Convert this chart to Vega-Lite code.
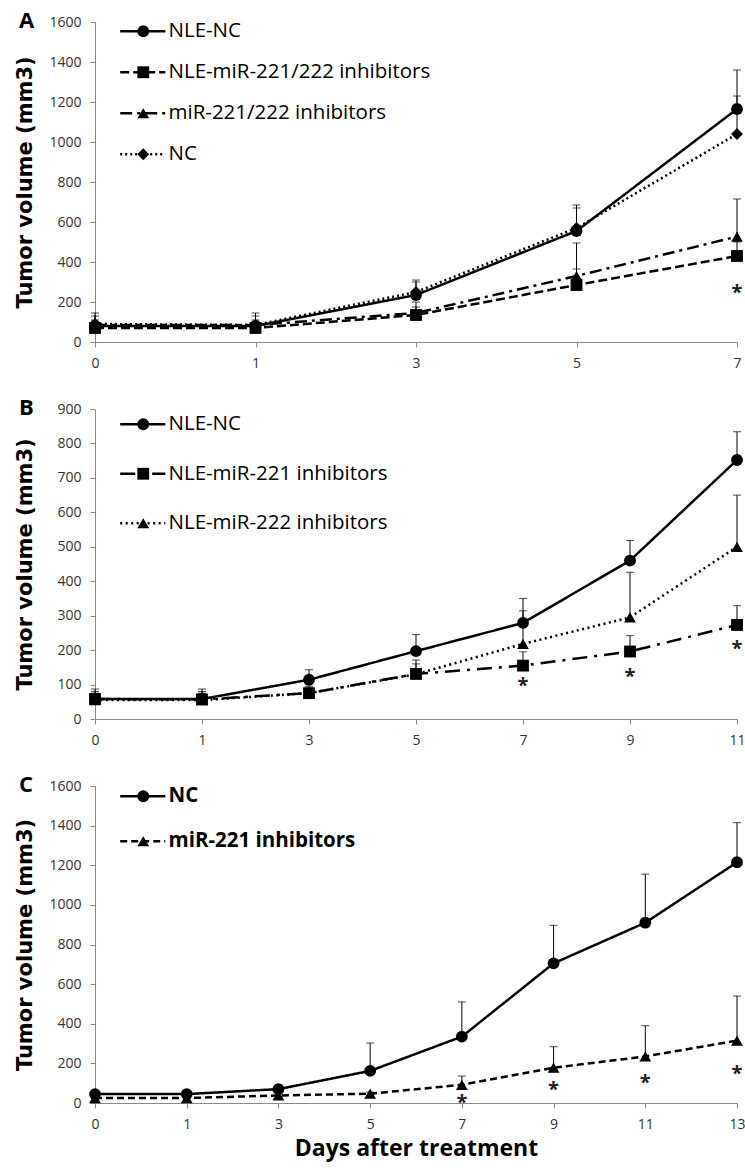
{
  "$schema": "https://vega.github.io/schema/vega-lite/v6.json",
  "background": "white",
  "padding": {"left": 14, "top": 10, "right": 5, "bottom": 5},
  "spacing": 27,
  "config": {
    "view": {"stroke": null},
    "axis": {
      "grid": false,
      "domainColor": "#8a8a8a",
      "tickColor": "#8a8a8a",
      "tickSize": 5,
      "labelFont": "Open Sans",
      "labelFontSize": 14,
      "labelColor": "#333333",
      "labelPadding": 9,
      "titleFont": "DejaVu Sans",
      "titleFontWeight": "bold",
      "titleFontSize": 21,
      "titleColor": "black"
    },
    "axisX": {"labelAngle": 0},
    "axisY": {"format": "d"},
    "legend": {
      "orient": "none",
      "title": null,
      "padding": 0,
      "labelFont": "Open Sans",
      "labelFontSize": 20.5,
      "labelColor": "black",
      "labelLimit": 600,
      "symbolSize": 110,
      "labelOffset": 15.5
    },
    "title": {
      "anchor": "start",
      "frame": "bounds",
      "font": "Open Sans",
      "fontSize": 22,
      "fontWeight": "bold",
      "color": "black",
      "offset": 0
    }
  },
  "datasets": {
    "A": [
      {"group": "NLE-NC", "day": 0, "mean": 80, "upper": 145},
      {"group": "NLE-NC", "day": 1, "mean": 80, "upper": 145},
      {"group": "NLE-NC", "day": 3, "mean": 235, "upper": 300},
      {"group": "NLE-NC", "day": 5, "mean": 555, "upper": 670},
      {"group": "NLE-NC", "day": 7, "mean": 1165, "upper": 1360},
      {"group": "NLE-miR-221/222 inhibitors", "day": 0, "mean": 70, "upper": 100},
      {"group": "NLE-miR-221/222 inhibitors", "day": 1, "mean": 70, "upper": 100},
      {"group": "NLE-miR-221/222 inhibitors", "day": 3, "mean": 135, "upper": 175},
      {"group": "NLE-miR-221/222 inhibitors", "day": 5, "mean": 285, "upper": 365},
      {"group": "NLE-miR-221/222 inhibitors", "day": 7, "mean": 430, "upper": 500},
      {"group": "miR-221/222 inhibitors", "day": 0, "mean": 85, "upper": 110},
      {"group": "miR-221/222 inhibitors", "day": 1, "mean": 85, "upper": 110},
      {"group": "miR-221/222 inhibitors", "day": 3, "mean": 145, "upper": 200},
      {"group": "miR-221/222 inhibitors", "day": 5, "mean": 330, "upper": 495},
      {"group": "miR-221/222 inhibitors", "day": 7, "mean": 527, "upper": 715},
      {"group": "NC", "day": 0, "mean": 90, "upper": 130},
      {"group": "NC", "day": 1, "mean": 85, "upper": 130},
      {"group": "NC", "day": 3, "mean": 250, "upper": 310},
      {"group": "NC", "day": 5, "mean": 570, "upper": 685},
      {"group": "NC", "day": 7, "mean": 1040, "upper": 1230}
    ],
    "A_star": [
      {"day": 7, "mean": 268}
    ],
    "B": [
      {"group": "NLE-NC", "day": 0, "mean": 58, "upper": 87},
      {"group": "NLE-NC", "day": 1, "mean": 58, "upper": 87},
      {"group": "NLE-NC", "day": 3, "mean": 114, "upper": 143},
      {"group": "NLE-NC", "day": 5, "mean": 197, "upper": 245},
      {"group": "NLE-NC", "day": 7, "mean": 279, "upper": 350},
      {"group": "NLE-NC", "day": 9, "mean": 460, "upper": 518},
      {"group": "NLE-NC", "day": 11, "mean": 752, "upper": 834},
      {"group": "NLE-miR-221 inhibitors", "day": 0, "mean": 58, "upper": 80},
      {"group": "NLE-miR-221 inhibitors", "day": 1, "mean": 57, "upper": 80},
      {"group": "NLE-miR-221 inhibitors", "day": 3, "mean": 75, "upper": 95},
      {"group": "NLE-miR-221 inhibitors", "day": 5, "mean": 131, "upper": 171},
      {"group": "NLE-miR-221 inhibitors", "day": 7, "mean": 155, "upper": 195},
      {"group": "NLE-miR-221 inhibitors", "day": 9, "mean": 196, "upper": 242},
      {"group": "NLE-miR-221 inhibitors", "day": 11, "mean": 273, "upper": 329},
      {"group": "NLE-miR-222 inhibitors", "day": 0, "mean": 55, "upper": 75},
      {"group": "NLE-miR-222 inhibitors", "day": 1, "mean": 55, "upper": 75},
      {"group": "NLE-miR-222 inhibitors", "day": 3, "mean": 75, "upper": 90},
      {"group": "NLE-miR-222 inhibitors", "day": 5, "mean": 130, "upper": 160},
      {"group": "NLE-miR-222 inhibitors", "day": 7, "mean": 218, "upper": 314},
      {"group": "NLE-miR-222 inhibitors", "day": 9, "mean": 295, "upper": 426},
      {"group": "NLE-miR-222 inhibitors", "day": 11, "mean": 500, "upper": 650}
    ],
    "B_star": [
      {"day": 7, "mean": 111},
      {"day": 9, "mean": 137},
      {"day": 11, "mean": 218}
    ],
    "C": [
      {"group": "NC", "day": 0, "mean": 45, "upper": 55},
      {"group": "NC", "day": 1, "mean": 45, "upper": 55},
      {"group": "NC", "day": 3, "mean": 70, "upper": 80},
      {"group": "NC", "day": 5, "mean": 162, "upper": 303},
      {"group": "NC", "day": 7, "mean": 335, "upper": 510},
      {"group": "NC", "day": 9, "mean": 705, "upper": 897},
      {"group": "NC", "day": 11, "mean": 910, "upper": 1155},
      {"group": "NC", "day": 13, "mean": 1215, "upper": 1415},
      {"group": "miR-221 inhibitors", "day": 0, "mean": 25, "upper": 30},
      {"group": "miR-221 inhibitors", "day": 1, "mean": 25, "upper": 30},
      {"group": "miR-221 inhibitors", "day": 3, "mean": 38, "upper": 45},
      {"group": "miR-221 inhibitors", "day": 5, "mean": 47, "upper": 55},
      {"group": "miR-221 inhibitors", "day": 7, "mean": 92, "upper": 136},
      {"group": "miR-221 inhibitors", "day": 9, "mean": 178, "upper": 284},
      {"group": "miR-221 inhibitors", "day": 11, "mean": 235, "upper": 390},
      {"group": "miR-221 inhibitors", "day": 13, "mean": 315, "upper": 540}
    ],
    "C_star": [
      {"day": 7, "mean": 27},
      {"day": 9, "mean": 89},
      {"day": 11, "mean": 128},
      {"day": 13, "mean": 171}
    ]
  },
  "resolve": {
    "scale": {"strokeDash": "independent", "shape": "independent", "x": "independent", "y": "independent"},
    "legend": {"strokeDash": "independent", "shape": "independent"}
  },
  "vconcat": [
    {
      "title": {"text": "A", "dy": 22, "dx": 5},
      "width": 642,
      "height": 320,
      "data": {"name": "A"},
      "encoding": {
        "x": {"field": "day", "type": "ordinal", "scale": {"type": "point", "padding": 0, "domain": [0, 1, 3, 5, 7]}, "axis": {"title": null}},
        "y": {"field": "mean", "type": "quantitative", "scale": {"domain": [0, 1600], "nice": false}, "axis": {"title": "Tumor volume (mm3)", "values": [0, 200, 400, 600, 800, 1000, 1200, 1400, 1600], "titleX": -60}}
      },
      "layer": [
        {"mark": {"type": "rule", "color": "black", "strokeWidth": 1}, "encoding": {"y2": {"field": "upper"}}},
        {"mark": {"type": "tick", "orient": "horizontal", "color": "black", "thickness": 1, "size": 8}, "encoding": {"y": {"field": "upper", "type": "quantitative"}}},
        {
          "mark": {"type": "line", "color": "black", "strokeWidth": 2.5},
          "encoding": {
            "strokeDash": {
              "field": "group", "type": "nominal", "sort": null,
              "scale": {"range": [[1, 0], [9, 4], [12, 5, 3, 5], [2, 3]]},
              "legend": {"legendX": 37.5, "legendY": -1, "rowPadding": 20, "symbolType": "M-4.3,0H4.3", "symbolStrokeColor": "black", "symbolStrokeWidth": 2.5}
            }
          }
        },
        {
          "mark": {"type": "point", "filled": true, "color": "black", "opacity": 1, "size": 140},
          "encoding": {"shape": {"field": "group", "type": "nominal", "scale": {"domain": ["NLE-NC", "NLE-miR-221/222 inhibitors", "miR-221/222 inhibitors", "NC"], "range": ["circle", "square", "triangle-up", "diamond"]},
            "legend": {"legendX": 38, "legendY": -1, "rowPadding": 20, "symbolSize": 140, "symbolStrokeWidth": 0, "labelOpacity": 0}}}
        },
        {"data": {"name": "A_star"}, "mark": {"type": "text", "text": "*", "font": "Open Sans", "fontWeight": "bold", "fontSize": 20, "color": "#222222", "dy": 5}}
      ]
    },
    {
      "title": {"text": "B", "dy": 22, "dx": 5},
      "width": 642,
      "height": 310,
      "data": {"name": "B"},
      "encoding": {
        "x": {"field": "day", "type": "ordinal", "scale": {"type": "point", "padding": 0, "domain": [0, 1, 3, 5, 7, 9, 11]}, "axis": {"title": null}},
        "y": {"field": "mean", "type": "quantitative", "scale": {"domain": [0, 900], "nice": false}, "axis": {"title": "Tumor volume (mm3)", "values": [0, 100, 200, 300, 400, 500, 600, 700, 800, 900], "titleX": -60}}
      },
      "layer": [
        {"mark": {"type": "rule", "color": "black", "strokeWidth": 1}, "encoding": {"y2": {"field": "upper"}}},
        {"mark": {"type": "tick", "orient": "horizontal", "color": "black", "thickness": 1, "size": 8}, "encoding": {"y": {"field": "upper", "type": "quantitative"}}},
        {
          "mark": {"type": "line", "color": "black", "strokeWidth": 2.5},
          "encoding": {
            "strokeDash": {
              "field": "group", "type": "nominal", "sort": null,
              "scale": {"range": [[1, 0], [15, 7, 3, 7], [2, 3.5]]},
              "legend": {"legendX": 37.5, "legendY": 5, "rowPadding": 28.5, "symbolType": "M-4.3,0H4.3", "symbolStrokeColor": "black", "symbolStrokeWidth": 2.5}
            }
          }
        },
        {
          "mark": {"type": "point", "filled": true, "color": "black", "opacity": 1, "size": 140},
          "encoding": {"shape": {"field": "group", "type": "nominal", "scale": {"domain": ["NLE-NC", "NLE-miR-221 inhibitors", "NLE-miR-222 inhibitors"], "range": ["circle", "square", "triangle-up"]},
            "legend": {"legendX": 38, "legendY": 5, "rowPadding": 28.5, "symbolSize": 140, "symbolStrokeWidth": 0, "labelOpacity": 0}}}
        },
        {"data": {"name": "B_star"}, "mark": {"type": "text", "text": "*", "font": "Open Sans", "fontWeight": "bold", "fontSize": 20, "color": "#222222", "dy": 5}}
      ]
    },
    {
      "title": {"text": "C", "dy": 22, "dx": 5},
      "width": 642,
      "height": 317,
      "data": {"name": "C"},
      "encoding": {
        "x": {"field": "day", "type": "ordinal", "scale": {"type": "point", "padding": 0, "domain": [0, 1, 3, 5, 7, 9, 11, 13]}, "axis": {"title": "Days after treatment", "titleFont": "Open Sans", "titleFontSize": 23, "titlePadding": 6}},
        "y": {"field": "mean", "type": "quantitative", "scale": {"domain": [0, 1600], "nice": false}, "axis": {"title": "Tumor volume (mm3)", "values": [0, 200, 400, 600, 800, 1000, 1200, 1400, 1600], "titleX": -60}}
      },
      "layer": [
        {"mark": {"type": "rule", "color": "black", "strokeWidth": 1}, "encoding": {"y2": {"field": "upper"}}},
        {"mark": {"type": "tick", "orient": "horizontal", "color": "black", "thickness": 1, "size": 8}, "encoding": {"y": {"field": "upper", "type": "quantitative"}}},
        {
          "mark": {"type": "line", "color": "black", "strokeWidth": 2.5},
          "encoding": {
            "strokeDash": {
              "field": "group", "type": "nominal", "sort": null,
              "scale": {"range": [[1, 0], [7, 4]]},
              "legend": {"legendX": 37.5, "legendY": 0, "rowPadding": 24, "labelFontWeight": "bold", "symbolType": "M-4.3,0H4.3", "symbolStrokeColor": "black", "symbolStrokeWidth": 2.5}
            }
          }
        },
        {
          "mark": {"type": "point", "filled": true, "color": "black", "opacity": 1, "size": 140},
          "encoding": {"shape": {"field": "group", "type": "nominal", "scale": {"domain": ["NC", "miR-221 inhibitors"], "range": ["circle", "triangle-up"]},
            "legend": {"legendX": 38, "legendY": 0, "rowPadding": 24, "labelFontWeight": "bold", "symbolSize": 140, "symbolStrokeWidth": 0, "labelOpacity": 0}}}
        },
        {"data": {"name": "C_star"}, "mark": {"type": "text", "text": "*", "font": "Open Sans", "fontWeight": "bold", "fontSize": 20, "color": "#222222", "dy": 5}}
      ]
    }
  ]
}
